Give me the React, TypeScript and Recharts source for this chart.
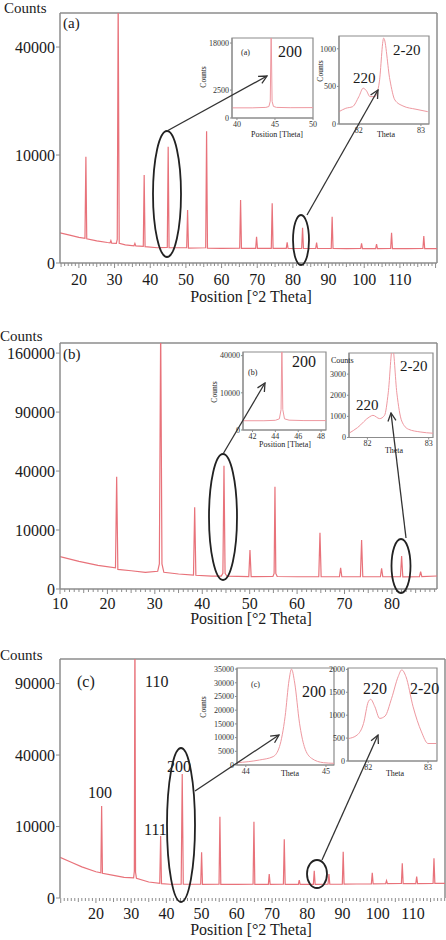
import React from 'react';
import { LineChart, Line, XAxis, YAxis, ReferenceLine, ReferenceArea } from 'recharts';

const SERIF = '"Liberation Serif", "DejaVu Serif", serif';
const TRACE = '#e8727a';
const INSET_TRACE = '#ee98a0';
const FRAME = '#8c8c8c';
const INK = '#1a1a1a';

// ---- (a) full scan, 2θ vs counts (sqrt count axis)
const thetaA = [14.7, 18, 20, 21.7, 21.96, 22.2, 25, 28, 28.75, 28.97, 29.2, 30.5, 30.75, 31.01, 31.3, 33, 35.45, 35.7, 35.95, 38.05, 38.3, 38.55, 42, 44.78, 45.03, 45.28, 50.22, 50.47, 50.72, 55.55, 55.8, 56.05, 60, 65.08, 65.33, 65.58, 69.56, 69.81, 70.06, 73.94, 74.19, 74.44, 78.14, 78.39, 78.64, 82.46, 82.71, 82.96, 86.39, 86.64, 86.89, 90.75, 91.0, 91.25, 95, 99.0, 99.25, 99.5, 103.2, 103.45, 103.7, 107.41, 107.66, 107.91, 112, 116.45, 116.7, 116.95, 120.4];
const countsA = [780, 640, 566, 520, 9690, 500, 420, 360, 350, 430, 340, 330, 480, 60000, 330, 280, 255, 330, 250, 240, 6640, 230, 200, 210, 11600, 200, 200, 2410, 190, 200, 14900, 190, 185, 190, 3400, 185, 185, 594, 185, 185, 3055, 185, 185, 367, 180, 185, 1070, 180, 180, 353, 180, 185, 1840, 180, 175, 180, 332, 175, 175, 310, 175, 180, 786, 175, 175, 180, 625, 175, 175];

// ---- (b)
const thetaB = [10, 14, 18, 21.7, 21.95, 22.2, 25, 28, 30.6, 30.95, 31.23, 31.5, 31.9, 35, 38.15, 38.4, 38.65, 42, 44.0, 44.35, 44.58, 44.81, 45.2, 49.81, 50.06, 50.31, 54.9, 55.15, 55.33, 55.51, 55.8, 60, 64.57, 64.82, 65.07, 68.93, 69.18, 69.43, 73.35, 73.6, 73.85, 77.57, 77.82, 78.07, 81.79, 82.04, 82.29, 85.8, 86.05, 86.3, 89.5];
const countsB = [3000, 2200, 1600, 1300, 36200, 1100, 960, 800, 900, 1800, 200000, 1800, 800, 646, 560, 19200, 540, 470, 480, 700, 43700, 700, 470, 440, 4370, 435, 460, 700, 30100, 700, 450, 430, 435, 9100, 430, 430, 1300, 430, 430, 6900, 430, 430, 1230, 430, 430, 3130, 430, 440, 860, 440, 485];

// ---- (c)
const thetaC = [9.8, 13, 16, 20, 21.4, 21.62, 21.85, 25, 28, 30.7, 30.9, 31.07, 31.25, 31.5, 35, 38.12, 38.37, 38.62, 41, 44.2, 44.5, 44.8, 49.75, 50.0, 50.25, 54.95, 55.2, 55.45, 60, 64.61, 64.86, 65.11, 68.95, 69.2, 69.45, 73.22, 73.47, 73.72, 77.47, 77.72, 77.97, 81.73, 81.98, 82.23, 85.9, 86.15, 86.4, 89.95, 90.2, 90.45, 94, 98.2, 98.45, 98.7, 102.25, 102.5, 102.75, 106.72, 106.97, 107.22, 110.81, 111.06, 111.31, 115.72, 115.97, 116.22, 119.1];
const countsC = [3240, 2500, 1900, 1350, 1250, 16560, 1200, 1000, 838, 800, 1400, 150000, 1300, 760, 500, 420, 7520, 400, 370, 380, 30070, 380, 370, 4080, 367, 370, 12930, 367, 367, 370, 11390, 367, 367, 1130, 367, 370, 6740, 367, 367, 634, 367, 367, 1460, 367, 370, 1130, 370, 380, 4190, 380, 385, 390, 1250, 390, 400, 585, 400, 410, 2350, 410, 410, 888, 410, 420, 3080, 420, 422];

// ---- zoomed insets: 200 reflection and the 220 / 2-20 pair
const a200Theta = [39.35, 42, 43.8, 44.2, 44.38, 44.5, 44.62, 44.8, 45.2, 47, 50];
const a200Counts = [330, 330, 360, 420, 900, 25000, 900, 430, 360, 340, 345];
const a220Theta = [81.68, 81.79, 81.9, 82.0, 82.07, 82.12, 82.18, 82.26, 82.33, 82.4, 82.5, 82.58, 82.71, 82.92, 83.11];
const a220Counts = [164, 209, 231, 364, 476, 444, 364, 364, 560, 1142, 587, 320, 240, 196, 164];

const b200Theta = [41.17, 43, 44.0, 44.35, 44.5, 44.57, 44.65, 44.8, 45.2, 46.5, 48.43];
const b200Counts = [620, 620, 680, 900, 3000, 60000, 3000, 900, 700, 640, 640];
const b220Theta = [81.7, 81.84, 82.04, 82.09, 82.2, 82.28, 82.34, 82.41, 82.48, 82.56, 82.67, 82.86, 83.07];
const b220Counts = [202, 470, 987, 1050, 893, 1050, 2115, 4300, 2115, 780, 390, 263, 202];

const c200Theta = [43.89, 44.17, 44.34, 44.42, 44.49, 44.54, 44.57, 44.61, 44.67, 44.73, 44.82, 44.97, 45.1];
const c200Counts = [840, 1830, 3040, 6700, 17670, 31100, 35000, 29900, 15250, 6700, 2440, 840, 620];
const c220Theta = [81.67, 81.81, 81.92, 82.0, 82.04, 82.11, 82.19, 82.28, 82.39, 82.5, 82.56, 82.63, 82.75, 82.89, 83.0, 83.14];
const c220Counts = [491, 564, 820, 1294, 1346, 1184, 930, 980, 1368, 1842, 1989, 1842, 1184, 636, 382, 382];

// ---- axis ticks
const yTicksA = [0, 10000, 40000];
const yTicksB = [0, 10000, 40000, 90000, 160000];
const yTicksC = [0, 10000, 40000, 90000];
const xLabelsA = [20, 30, 40, 50, 60, 70, 80, 90, 100, 110];
const xLabelsB = [10, 20, 30, 40, 50, 60, 70, 80];
const xLabelsC = [20, 30, 40, 50, 60, 70, 80, 90, 100, 110];

const rows = (theta: number[], counts: number[]) => theta.map((t, i) => ({ t, c: counts[i] }));

function wholeDegrees(lo: number, hi: number) {
  const out: number[] = [];
  for (let v = Math.ceil(lo); v <= Math.floor(hi); v++) out.push(v);
  return out;
}

type PatternProps = {
  top: number;
  height: number;
  rightGap: number;
  bottomGap: number;
  theta: number[];
  counts: number[];
  xDomain: [number, number];
  xLabels: number[];
  labelDrop: number;
  yDomain: [number, number];
  yTicks: number[];
  dotted?: boolean;
};

function Pattern(p: PatternProps) {
  const tick = (props: any) => {
    const { x, y, payload } = props;
    const v = payload.value as number;
    const len = v % 10 === 0 ? 5 : v % 5 === 0 ? 4 : 3;
    return (
      <g>
        <line x1={x} x2={x} y1={y} y2={y + len} stroke={FRAME} strokeWidth={1} />
        {p.xLabels.includes(v) && (
          <text x={x} y={y + p.labelDrop} textAnchor="middle" fontSize={16} fontFamily={SERIF} fill={INK}>
            {v}
          </text>
        )}
      </g>
    );
  };
  return (
    <div style={{ position: 'absolute', left: 0, top: p.top }}>
      <LineChart
        width={446}
        height={p.height}
        data={rows(p.theta, p.counts)}
        margin={{ top: 13, right: p.rightGap, bottom: p.bottomGap, left: 0 }}
      >
        <XAxis
          type="number"
          dataKey="t"
          domain={p.xDomain}
          allowDataOverflow
          ticks={wholeDegrees(p.xDomain[0], p.xDomain[1])}
          interval={0}
          tick={tick}
          tickLine={false}
          tickSize={0}
          tickMargin={0}
          height={30}
          axisLine={p.dotted ? false : { stroke: FRAME, strokeWidth: 1.5 }}
        />
        <YAxis
          type="number"
          scale="sqrt"
          domain={p.yDomain}
          allowDataOverflow
          ticks={p.yTicks}
          interval={0}
          width={60}
          tickSize={4}
          tickMargin={1}
          tickLine={{ stroke: FRAME }}
          axisLine={{ stroke: FRAME, strokeWidth: 1.5 }}
          tick={{ fontSize: 16, fontFamily: SERIF, fill: INK }}
        />
        <ReferenceLine y={p.yDomain[1]} stroke={FRAME} strokeWidth={1.5} />
        <ReferenceLine x={p.xDomain[1]} stroke={FRAME} strokeWidth={1.5} />
        <Line type="linear" dataKey="c" stroke={TRACE} strokeWidth={1.2} dot={false} isAnimationActive={false} />
      </LineChart>
    </div>
  );
}

type InsetProps = {
  box: { left: number; top: number; right: number; bottom: number };
  theta: number[];
  counts: number[];
  xDomain: [number, number];
  xTicks: number[];
  yDomain: [number, number];
  yTicks: number[];
  sqrt?: boolean;
  smooth?: boolean;
};

function Inset(p: InsetProps) {
  const yw = 32;
  const xh = 14;
  const mt = 2;
  const mr = 7;
  const w = p.box.right - p.box.left;
  const h = p.box.bottom - p.box.top;
  const small = { fontSize: 8, fontFamily: SERIF, fill: '#333' };
  return (
    <div style={{ position: 'absolute', left: p.box.left - yw, top: p.box.top - mt }}>
      <LineChart
        width={yw + w + mr}
        height={mt + h + xh}
        data={rows(p.theta, p.counts)}
        margin={{ top: mt, right: mr, bottom: 0, left: 0 }}
      >
        <XAxis
          type="number"
          dataKey="t"
          domain={p.xDomain}
          allowDataOverflow
          ticks={p.xTicks}
          interval={0}
          height={xh}
          tickSize={2}
          tickMargin={1}
          tick={small}
          tickLine={{ stroke: FRAME }}
          axisLine={{ stroke: FRAME }}
        />
        <YAxis
          type="number"
          scale={p.sqrt ? 'sqrt' : 'linear'}
          domain={p.yDomain}
          allowDataOverflow
          ticks={p.yTicks}
          interval={0}
          width={yw}
          tickSize={2}
          tickMargin={1}
          tick={small}
          tickLine={{ stroke: FRAME }}
          axisLine={{ stroke: FRAME }}
        />
        <ReferenceArea
          x1={p.xDomain[0]}
          x2={p.xDomain[1]}
          y1={p.yDomain[0]}
          y2={p.yDomain[1]}
          fill="none"
          stroke={FRAME}
          strokeWidth={1.2}
        />
        <Line
          type={p.smooth ? 'monotone' : 'linear'}
          dataKey="c"
          stroke={INSET_TRACE}
          strokeWidth={1}
          dot={false}
          isAnimationActive={false}
        />
      </LineChart>
    </div>
  );
}

function T({ x, y, size = 16, anchor = 'start', children }: any) {
  return (
    <text x={x} y={y} fontSize={size} fontFamily={SERIF} fill={INK} textAnchor={anchor}>
      {children}
    </text>
  );
}

function VT({ x, y, size = 7.5, children }: any) {
  return (
    <text
      transform={`translate(${x},${y}) rotate(-90)`}
      fontSize={size}
      fontFamily={SERIF}
      fill={INK}
      textAnchor="middle"
      dominantBaseline="middle"
    >
      {children}
    </text>
  );
}

function Arrow({ x1, y1, x2, y2 }: any) {
  return <line x1={x1} y1={y1} x2={x2} y2={y2} stroke="#333" strokeWidth={1.3} markerEnd="url(#head)" />;
}

function Ring({ cx, cy, rx, ry }: any) {
  return <ellipse cx={cx} cy={cy} rx={rx} ry={ry} fill="none" stroke="#222" strokeWidth={1.8} />;
}

export default function App() {
  return (
    <div style={{ position: 'relative', width: 446, height: 940, background: '#fff', overflow: 'hidden' }}>
      <style>{'body{margin:0}'}</style>

      <Pattern top={0} height={300} rightGap={9} bottomGap={7} theta={thetaA} counts={countsA}
        xDomain={[14.7, 120.4]} xLabels={xLabelsA} labelDrop={22} yDomain={[0, 53600]} yTicks={yTicksA} />
      <Pattern top={330} height={300} rightGap={9} bottomGap={11} theta={thetaB} counts={countsB}
        xDomain={[10, 89.5]} xLabels={xLabelsB} labelDrop={19.5} yDomain={[0, 174000]} yTicks={yTicksB} />
      <Pattern top={646} height={294} rightGap={1} bottomGap={12} theta={thetaC} counts={countsC}
        xDomain={[9.8, 119.1]} xLabels={xLabelsC} labelDrop={21} yDomain={[0, 111800]} yTicks={yTicksC} dotted />

      <Inset box={{ left: 232, top: 38, right: 313, bottom: 118 }} theta={a200Theta} counts={a200Counts}
        xDomain={[39.35, 50]} xTicks={[40, 45, 50]} yDomain={[0, 20500]} yTicks={[0, 2500, 18000]} sqrt />
      <Inset box={{ left: 339, top: 36, right: 429, bottom: 124 }} theta={a220Theta} counts={a220Counts}
        xDomain={[81.68, 83.13]} xTicks={[82, 83]} yDomain={[0, 1170]} yTicks={[0, 500, 1000]} smooth />
      <Inset box={{ left: 243, top: 352, right: 326, bottom: 430 }} theta={b200Theta} counts={b200Counts}
        xDomain={[41.17, 48.43]} xTicks={[42, 44, 46, 48]} yDomain={[0, 44000]} yTicks={[0, 10000, 40000]} sqrt />
      <Inset box={{ left: 349, top: 353, right: 433, bottom: 437.5 }} theta={b220Theta} counts={b220Counts}
        xDomain={[81.7, 83.07]} xTicks={[82, 83]} yDomain={[0, 4000]} yTicks={[0, 1000, 2000, 3000]} smooth />
      <Inset box={{ left: 237, top: 668, right: 334, bottom: 765 }} theta={c200Theta} counts={c200Counts}
        xDomain={[43.89, 45.1]} xTicks={[44, 45]} yDomain={[0, 35400]}
        yTicks={[0, 5000, 10000, 15000, 20000, 25000, 30000, 35000]} smooth />
      <Inset box={{ left: 348, top: 668, right: 437, bottom: 761 }} theta={c220Theta} counts={c220Counts}
        xDomain={[81.66, 83.15]} xTicks={[82, 83]} yDomain={[0, 2030]} yTicks={[0, 500, 1000, 1500, 2000]} smooth />

      <svg width={446} height={940} style={{ position: 'absolute', left: 0, top: 0, pointerEvents: 'none' }}>
        <defs>
          <marker id="head" markerWidth="10" markerHeight="10" refX="9" refY="5" orient="auto" markerUnits="userSpaceOnUse">
            <path d="M1,1 L9,5 L1,9" fill="none" stroke="#333" strokeWidth="1.3" />
          </marker>
        </defs>

        {/* (a) */}
        <T x={4} y={13} size={15}>Counts</T>
        <T x={63} y={28} size={15}>(a)</T>
        <T x={251} y={302} anchor="middle">Position [°2 Theta]</T>
        <T x={241} y={55} size={8}>(a)</T>
        <T x={278} y={57}>200</T>
        <VT x={204} y={77}>Counts</VT>
        <T x={277} y={137} size={8} anchor="middle">Position [Theta]</T>
        <T x={353} y={83} size={15}>220</T>
        <T x={393} y={55} size={15}>2-20</T>
        <VT x={321} y={71}>Counts</VT>
        <T x={386} y={137} size={8} anchor="middle">Theta</T>
        <Ring cx={167} cy={194} rx={14} ry={63} />
        <Ring cx={301} cy={240} rx={8} ry={25} />
        <Arrow x1={167} y1={131} x2={267} y2={76} />
        <Arrow x1={307} y1={215} x2={378} y2={90} />

        {/* (b) */}
        <T x={0} y={341} size={15}>Counts</T>
        <T x={63} y={359} size={15}>(b)</T>
        <T x={251} y={624} anchor="middle">Position [°2 Theta]</T>
        <T x={248} y={375} size={8}>(b)</T>
        <T x={292} y={367}>200</T>
        <VT x={215} y={392}>Counts</VT>
        <T x={285} y={447} size={8} anchor="middle">Position [Theta]</T>
        <T x={331} y={363} size={8}>Counts</T>
        <T x={400} y={371} size={15}>2-20</T>
        <T x={356} y={410} size={15}>220</T>
        <T x={394} y={453} size={8} anchor="middle">Theta</T>
        <Ring cx={223} cy={517} rx={14} ry={63} />
        <Ring cx={401} cy={566} rx={9.5} ry={27} />
        <Arrow x1={223} y1={454} x2={265} y2={383} />
        <Arrow x1={406} y1={538} x2={391} y2={413} />

        {/* (c) */}
        <T x={0} y={660} size={15}>Counts</T>
        <T x={77} y={687}>(c)</T>
        <T x={145} y={687}>110</T>
        <T x={88} y={798}>100</T>
        <T x={144} y={835}>111</T>
        <T x={167} y={772}>200</T>
        <T x={251} y={935} anchor="middle">Position [°2 Theta]</T>
        <T x={251} y={687} size={8}>(c)</T>
        <T x={302} y={697}>200</T>
        <VT x={204} y={707}>Counts</VT>
        <T x={290} y={776} size={8} anchor="middle">Theta</T>
        <T x={363} y={694}>220</T>
        <T x={410} y={694}>2-20</T>
        <T x={395} y={776} size={8} anchor="middle">Theta</T>
        <Ring cx={181} cy={825} rx={14} ry={77} />
        <Ring cx={317} cy={874} rx={10} ry={14} />
        <Arrow x1={195} y1={791} x2={279} y2={735} />
        <Arrow x1={322} y1={860} x2={378} y2={735} />
      </svg>
    </div>
  );
}
